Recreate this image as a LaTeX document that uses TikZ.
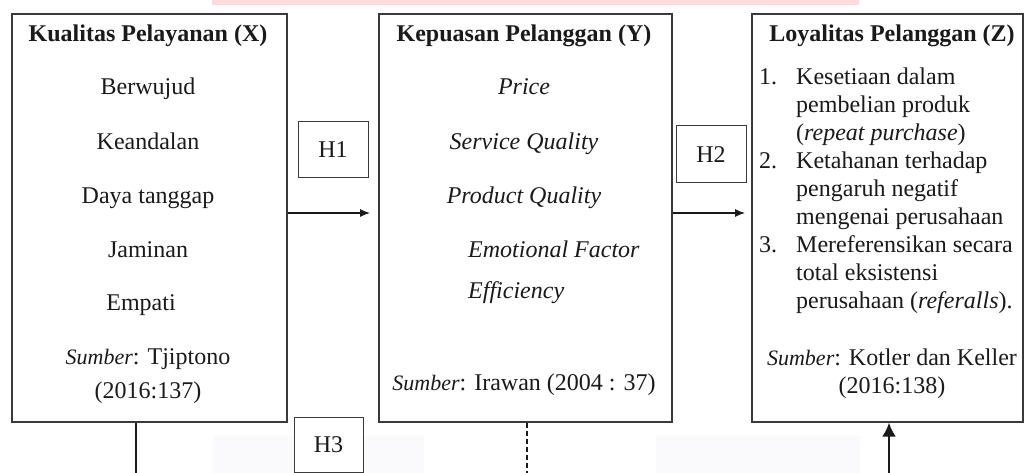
\documentclass[tikz,border=0pt]{standalone}
\usepackage{fontspec}
\setmainfont{Liberation Serif}
\usetikzlibrary{arrows.meta}
\definecolor{boxgray}{HTML}{3A3A3A}
\definecolor{ink}{HTML}{1A1A1A}
\definecolor{wmpink}{HTML}{FCDADD}
\definecolor{wmgray}{HTML}{FAFAFC}
\begin{document}
\begin{tikzpicture}[x=1pt,y=-1pt,
  box/.style={draw=boxgray, line width=1.3pt, fill=white, inner sep=0pt},
  hbox/.style={draw=boxgray, line width=1pt, fill=white, inner sep=0pt, minimum width=70pt, minimum height=56pt,
     font=\fontsize{24}{28}\selectfont, text=ink},
  txt/.style={inner sep=0pt, font=\fontsize{24}{28}\selectfont, text=ink, text height=16pt, text depth=5pt},
  ltxt/.style={txt, anchor=west},
  conn/.style={draw=ink, line width=1.1pt},
  arr/.style={conn, -{Latex[length=10pt,width=8pt]}}]
\useasboundingbox (0,0) rectangle (1025,473);
% faint watermark traces
\fill[wmpink] (212,0) rectangle (859,5);
\fill[wmgray] (213,436) rectangle (424,473);
\fill[wmgray] (656,436) rectangle (860,473);
% boxes
\node[box, minimum width=275pt, minimum height=408pt] (X) at (149.5,218) {};
\node[box, minimum width=293pt, minimum height=408pt] (Y) at (525.5,218) {};
\node[box, minimum width=271pt, minimum height=408pt] (Z) at (887.5,218) {};
% hypothesis boxes
\node[hbox] (H1) at (333,150) {H1};
\node[hbox, minimum height=57pt] (H2) at (711,154.5) {H2};
\node[hbox, minimum width=69pt, minimum height=55pt] (H3) at (328.5,444.5) {H3};
% X contents
\node[txt] (xt) at (148,36) {\textbf{Kualitas Pelayanan (X)}};
\node[txt] (x1) at (148,89) {Berwujud};
\node[txt] (x2) at (148,144) {Keandalan};
\node[txt] (x3) at (148,198) {Daya tanggap};
\node[txt] (x4) at (148,252) {Jaminan};
\node[txt] (x5) at (141,305) {Empati};
\node[txt] (xs1) at (148,359) {{\fontsize{22}{26}\selectfont\itshape Sumber}: Tjiptono};
\node[txt] (xs2) at (148,393) {(2016:137)};
% Y contents
\node[txt] (yt) at (524,36) {\textbf{Kepuasan Pelanggan (Y)}};
\node[txt] (y1) at (524,89) {\itshape Price};
\node[txt] (y2) at (524,144) {\itshape Service Quality};
\node[txt] (y3) at (524,198) {\itshape Product Quality};
\node[ltxt] (y4) at (468,252) {\itshape Emotional Factor};
\node[ltxt] (y5) at (468,293) {\itshape Efficiency};
\node[txt] (ys) at (524,385) {{\fontsize{22}{26}\selectfont\itshape Sumber}: Irawan (2004 : 37)};
% Z contents
\node[txt] (zt) at (892,36) {\textbf{Loyalitas Pelanggan (Z)}};
\node[ltxt] (n1) at (759,79) {1.};
\node[ltxt] (z1) at (796,79) {Kesetiaan dalam};
\node[ltxt] (z2) at (796,107) {pembelian produk};
\node[ltxt] (z3) at (796,135) {(\textit{repeat purchase})};
\node[ltxt] (n2) at (759,163) {2.};
\node[ltxt] (z4) at (796,163) {Ketahanan terhadap};
\node[ltxt] (z5) at (796,191) {pengaruh negatif};
\node[ltxt] (z6) at (796,219) {mengenai perusahaan};
\node[ltxt] (n3) at (759,247) {3.};
\node[ltxt] (z7) at (796,247) {Mereferensikan secara};
\node[ltxt] (z8) at (796,275) {total eksistensi};
\node[ltxt] (z9) at (796,303) {perusahaan (\textit{referalls}).};
\node[txt] (zs1) at (892,360) {{\fontsize{22}{26}\selectfont\itshape Sumber}: Kotler dan Keller};
\node[txt] (zs2) at (892,388) {(2016:138)};
% connectors
\coordinate (a1) at (370,213);
\coordinate (a2) at (745,213);
\coordinate (xb) at (136,473);
\coordinate (yb) at (527,473);
\coordinate (zb) at (889,473);
\draw[arr] (X.east |- a1) -- (a1);
\draw[arr] (Y.east |- a2) -- (a2);
\draw[conn] (xb |- X.south) -- (xb);
\draw[conn, dashed, dash pattern=on 5pt off 3pt] (yb |- Y.south) -- (yb);
\draw[draw=ink, line width=2.2pt, -{Latex[length=14pt,width=14pt]}] (zb) -- (zb |- Z.south);
\end{tikzpicture}
\end{document}
